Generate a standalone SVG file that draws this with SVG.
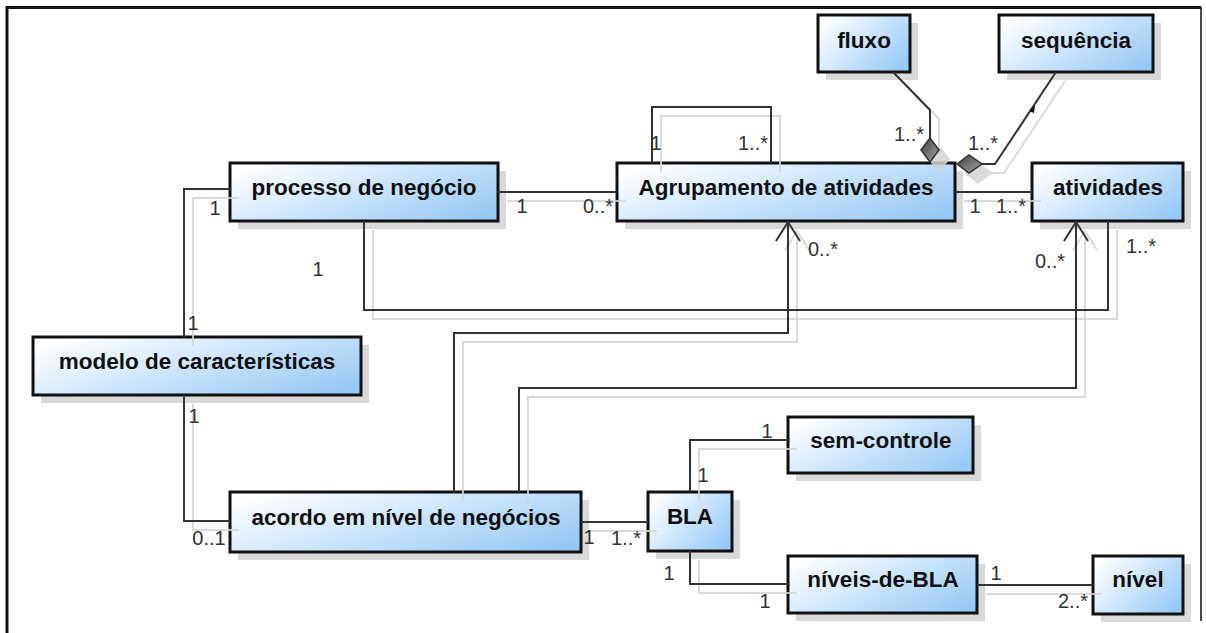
<svg xmlns="http://www.w3.org/2000/svg" width="1206" height="633" viewBox="0 0 1206 633">
<defs>
<linearGradient id="g" x1="0" y1="0.2" x2="1" y2="0.8">
<stop offset="0" stop-color="#ffffff"/>
<stop offset="1" stop-color="#98c9f5"/>
</linearGradient>
<linearGradient id="dg" x1="0" y1="0" x2="1" y2="1">
<stop offset="0" stop-color="#3c3c3c"/>
<stop offset="1" stop-color="#a8a8a8"/>
</linearGradient>
<marker id="arr" markerUnits="userSpaceOnUse" markerWidth="30" markerHeight="30" viewBox="-22 -15 26 30" refX="0" refY="0" orient="auto">
<path d="M-19,-12 L0,0 L-19,12" fill="none" stroke="#333" stroke-width="2"/>
</marker>
<marker id="arrs" markerUnits="userSpaceOnUse" markerWidth="30" markerHeight="30" viewBox="-22 -15 26 30" refX="0" refY="0" orient="auto">
<path d="M-19,-12 L0,0 L-19,12" fill="none" stroke="#d4d4d4" stroke-width="2"/>
</marker>
</defs>
<style>
.sh{fill:#d9d9d9}
.box{fill:url(#g);stroke:#111;stroke-width:3}
.t{font-family:"Liberation Sans",Arial,sans-serif;font-weight:bold;font-size:22.5px;fill:#111;text-anchor:middle}
.c{fill:none;stroke:#333;stroke-width:2}
.cs{fill:none;stroke:#d4d4d4;stroke-width:2;opacity:0.85}
.l{font-family:"Liberation Sans",Arial,sans-serif;font-size:20px;fill:#333;text-anchor:middle}
.dia{fill:url(#dg);stroke:#333;stroke-width:1.5}
.dsh{fill:#d4d4d4;opacity:0.85}
.frame{fill:none;stroke:#111}
</style>
<rect x="0" y="0" width="1206" height="633" fill="#ffffff"/>
<path class="frame" d="M7,633 V7.5 H1201" stroke-width="3"/>
<path class="frame" d="M1201,7 V621" stroke-width="1.5"/>

<g id="processo"><rect class="sh" x="238" y="171" width="268" height="58"/><rect class="box" x="230" y="163" width="268" height="58"/><text class="t" x="364" y="195">processo de negócio</text></g>
<g id="agrupamento"><rect class="sh" x="625" y="171" width="338" height="58"/><rect class="box" x="617" y="163" width="338" height="58"/><text class="t" x="786" y="195">Agrupamento de atividades</text></g>
<g id="atividades"><rect class="sh" x="1040" y="171" width="151" height="58"/><rect class="box" x="1032" y="163" width="151" height="58"/><text class="t" x="1108" y="195">atividades</text></g>
<g id="fluxo"><rect class="sh" x="826" y="23" width="92" height="57"/><rect class="box" x="818" y="15" width="92" height="57"/><text class="t" x="864" y="48">fluxo</text></g>
<g id="sequencia"><rect class="sh" x="1007" y="23" width="154" height="57"/><rect class="box" x="999" y="15" width="154" height="57"/><text class="t" x="1076" y="48">sequência</text></g>
<g id="modelo"><rect class="sh" x="41" y="345" width="328" height="58"/><rect class="box" x="33" y="337" width="328" height="58"/><text class="t" x="197" y="369">modelo de características</text></g>
<g id="acordo"><rect class="sh" x="238" y="500" width="351" height="60"/><rect class="box" x="230" y="492" width="351" height="60"/><text class="t" x="406" y="525">acordo em nível de negócios</text></g>
<g id="bla"><rect class="sh" x="656" y="500" width="84" height="59"/><rect class="box" x="648" y="492" width="84" height="59"/><text class="t" x="690" y="524">BLA</text></g>
<g id="sem-controle"><rect class="sh" x="796" y="425" width="185" height="56"/><rect class="box" x="788" y="417" width="185" height="56"/><text class="t" x="881" y="448">sem-controle</text></g>
<g id="niveis-de-bla"><rect class="sh" x="796" y="564" width="189" height="57"/><rect class="box" x="788" y="556" width="189" height="57"/><text class="t" x="883" y="587">níveis-de-BLA</text></g>
<g id="nivel"><rect class="sh" x="1101" y="564" width="90" height="58"/><rect class="box" x="1093" y="556" width="90" height="58"/><text class="t" x="1138" y="587">nível</text></g>

<g id="connectors">
<g transform="translate(9,9)">
<path class="cs" d="M498,192 H617"/>
<path class="cs" d="M652,163 V107 H771 V163"/>
<path class="cs" d="M230,189 H184 V337"/>
<path class="cs" d="M184,395 V521 H230"/>
<path class="cs" d="M364,221 V310 H1108 V221"/>
<path class="cs" d="M454,492 V333 H788 V222" marker-end="url(#arrs)"/>
<path class="cs" d="M519,492 V388 H1076 V222" marker-end="url(#arrs)"/>
<path class="cs" d="M955,192 H1032"/>
<path class="cs" d="M893,72 L930,110 V138"/>
<path class="cs" d="M1056,72 L995,164 H982"/>
<path class="cs" d="M581,522 H648"/>
<path class="cs" d="M690,492 V440 H788"/>
<path class="cs" d="M690,551 V584 H788"/>
<path class="cs" d="M977,585 H1093"/>
<polygon class="dsh" points="930,136 919,150 930,164 941,150"/>
<polygon class="dsh" points="955,164 969,153 984,164 969,175"/>
</g>
<path class="c" d="M498,192 H617"/>
<path class="c" d="M652,163 V107 H771 V163"/>
<path class="c" d="M230,189 H184 V337"/>
<path class="c" d="M184,395 V521 H230"/>
<path class="c" d="M364,221 V310 H1108 V221"/>
<path class="c" d="M454,492 V333 H788 V222" marker-end="url(#arr)"/>
<path class="c" d="M519,492 V388 H1076 V222" marker-end="url(#arr)"/>
<path class="c" d="M955,192 H1032"/>
<path class="c" d="M893,72 L930,110 V138"/>
<path class="c" d="M1056,72 L995,164 H982"/>
<path class="c" d="M581,522 H648"/>
<path class="c" d="M690,492 V440 H788"/>
<path class="c" d="M690,551 V584 H788"/>
<path class="c" d="M977,585 H1093"/>
<polygon class="dia" points="930,138 921,150 930,162 939,150"/>
<polygon class="dia" points="957,164 969,155 982,164 969,173"/>
<polygon points="1035,105 1029,111 1034,113" fill="#111"/>
<text class="l" x="522" y="213">1</text>
<text class="l" x="598" y="213">0..*</text>
<text class="l" x="656" y="150">1</text>
<text class="l" x="753" y="150">1..*</text>
<text class="l" x="215" y="215">1</text>
<text class="l" x="193" y="330">1</text>
<text class="l" x="194" y="423">1</text>
<text class="l" x="209" y="545">0..1</text>
<text class="l" x="318" y="276">1</text>
<text class="l" x="1141" y="253">1..*</text>
<text class="l" x="823" y="256">0..*</text>
<text class="l" x="1050" y="268">0..*</text>
<text class="l" x="975" y="213">1</text>
<text class="l" x="1011" y="213">1..*</text>
<text class="l" x="909" y="141">1..*</text>
<text class="l" x="983" y="150">1..*</text>
<text class="l" x="589" y="544">1</text>
<text class="l" x="626" y="545">1..*</text>
<text class="l" x="767" y="438">1</text>
<text class="l" x="703" y="482">1</text>
<text class="l" x="669" y="580">1</text>
<text class="l" x="765" y="608">1</text>
<text class="l" x="996" y="580">1</text>
<text class="l" x="1073" y="608">2..*</text>
</g>
</svg>
